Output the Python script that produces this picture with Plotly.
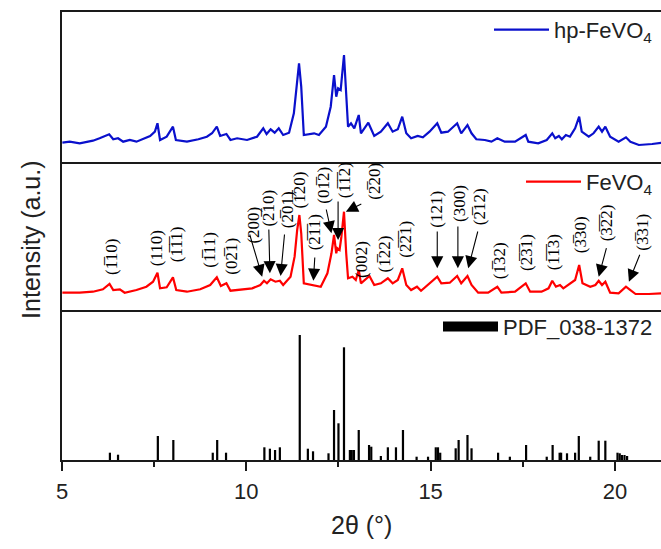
import plotly.graph_objects as go

# ---------------- data ----------------
hp_x = [5.01,5.21,5.48,5.84,6.02,6.28,6.39,6.52,6.66,6.84,7.02,7.20,7.39,7.52,7.59,7.66,7.84,8.01,8.09,8.39,8.70,8.93,9.07,9.20,9.29,9.46,9.57,9.75,10.02,10.29,10.46,10.55,10.66,10.77,10.88,11.00,11.16,11.29,11.38,11.43,11.49,11.56,11.84,11.97,12.16,12.29,12.38,12.44,12.49,12.56,12.65,12.72,12.76,12.84,12.93,13.05,13.11,13.31,13.47,13.65,13.84,13.97,14.11,14.23,14.34,14.47,14.65,14.79,14.97,15.18,15.29,15.47,15.72,15.83,16.00,16.11,16.24,16.47,16.65,16.81,17.01,17.29,17.58,17.65,17.92,18.15,18.30,18.38,18.48,18.56,18.67,18.78,18.92,19.03,19.10,19.29,19.42,19.56,19.65,19.74,19.87,20.10,20.30,20.42,20.65,21.01,21.28]
hp_y = [19.3,20.3,18.7,21.3,23.7,27.7,22.7,23.7,20.3,22,20.3,22.7,26,30.3,38.7,22,25.3,35.3,22,20.3,22.7,25.3,28.7,35.3,26,28,22,23.7,22,25.3,33.7,28,32.7,29.3,33.7,27,29.3,48.7,78.7,98.7,75.3,27,28.7,27,35.3,55.3,87,65.3,73.7,72,107,62,35.3,38.7,33.7,47,28.7,39.3,26,30.3,38.7,30.3,32.7,45.3,28.7,23.7,26,24.7,30.3,38.7,29.3,30.3,38.7,28.7,37,28.7,22.7,22,20.3,23.7,20.3,20.3,27,20.3,18.7,22,28.7,23.7,26,22.7,27,25.3,33.7,45.3,30.3,25.3,28.7,35.3,30.3,35.3,25.3,20.3,24.7,20.3,17,18,19.3]

fe_x = [5.01,5.48,5.84,6.11,6.29,6.39,6.57,6.70,7.02,7.29,7.47,7.59,7.66,7.84,8.01,8.10,8.39,8.75,9.02,9.20,9.31,9.46,9.57,9.84,10.16,10.38,10.48,10.56,10.66,10.79,10.91,11.00,11.20,11.31,11.38,11.44,11.49,11.56,11.84,12.02,12.20,12.31,12.38,12.44,12.47,12.53,12.58,12.65,12.71,12.76,12.88,12.97,13.05,13.11,13.34,13.47,13.65,13.84,13.97,14.11,14.23,14.34,14.47,14.63,14.74,14.97,15.18,15.29,15.52,15.72,15.83,16.00,16.11,16.29,16.56,16.81,16.92,17.29,17.58,17.70,18.01,18.20,18.30,18.40,18.51,18.60,18.74,18.92,19.03,19.12,19.33,19.47,19.56,19.65,19.74,19.87,20.10,20.30,20.42,20.56,20.92,21.28]
fe_y = [17.3,17.3,18.3,20.7,26,20,20.7,17.3,20,23.3,28.3,37.3,21.7,22.7,32.7,20,18.3,20.7,25,32.7,24,26.7,19.3,20.7,21.7,25,29.3,26.7,30.7,28.3,29.3,25,33.3,53.3,80,95,76.7,26.7,25,23.3,36.7,56.7,75,56.7,61.7,60,73.3,98.3,56.7,31.7,33.3,30,40,26.7,34,25,26.7,31.7,26.7,30,41.7,25,20,23.3,19.3,26.7,33.3,26.7,27.3,34,26.7,34,25,17.3,17.3,23.3,17.3,18.3,26.7,18.3,18.3,21.7,29.3,23.3,25,21.7,25,30,45,26.7,23.3,25,29.3,25,28.3,17.3,16.7,23.3,20,16,16,16.7]

pdf_x = [6.30,6.52,7.60,8.02,9.09,9.21,9.45,10.49,10.64,10.78,10.91,11.45,11.67,11.81,12.23,12.38,12.50,12.65,12.81,12.86,12.92,13.05,13.33,13.39,13.65,13.84,14.06,14.25,14.62,14.93,15.14,15.20,15.26,15.68,15.76,16.00,16.11,16.83,17.15,17.59,18.15,18.31,18.50,18.54,18.70,18.92,19.02,19.33,19.56,19.74,20.07,20.13,20.19,20.26,20.33]
pdf_y = [7.3,5.3,24,20,7.3,20,7.3,12.7,11.3,10,12.7,125,11.3,8.7,6.7,50,36.7,112.7,10,10,10,30,15,13.3,4,12.7,12.7,30,3.3,3.3,12.7,12.7,7.3,11.7,20,25,11.7,7.3,3.3,15,3.3,15,7.3,7.3,6.7,7.3,24,3.3,19.3,19.3,7.3,6.7,5,5,4]

B = "\u0305"  # combining overline (bar over the preceding digit)
# labels placed directly above peaks
free_hkl = ["(1"+B+"10)", "(110)", "(1"+B+"1"+B+"1)", "(1"+B+"11)", "(02"+B+"1)", "(1"+B+"20)",
            "(002)", "(1"+B+"22)", "(2"+B+"2"+B+"1)", "(1"+B+"32)", "(2"+B+"3"+B+"1)", "(1"+B+"1"+B+"3)", "(3"+B+"30)"]
free_x = [6.34, 7.57, 8.11, 8.98, 9.59, 11.47, 13.11, 13.76, 14.31, 16.86, 17.60, 18.33, 19.06]
free_y = [53.5, 61.5, 65.5, 60, 53.5, 120, 51, 56.5, 70.5, 49, 57.5, 58, 75]

# labels with arrows
arr_hkl = ["(200)", "(2"+B+"10)", "(2"+B+"01)", "(2"+B+"1"+B+"1)", "(01"+B+"2)", "(1"+B+"1"+B+"2)", "(2"+B+"20)",
           "(121)", "(300)", "(2"+B+"12)", "(3"+B+"2"+B+"2)", "(3"+B+"31)"]
arr_lx = [10.17, 10.59, 11.11, 11.86, 12.10, 12.67, 13.47, 15.15, 15.77, 16.33, 19.78, 20.74]
arr_ly = [85, 101.5, 100, 77.5, 125, 129.5, 128.5, 100.5, 106, 103.5, 87.5, 77.5]
arr_tx = [10.08, 10.61, 11.04, 11.86, 12.16, 12.49, 13.16, 15.18, 15.74, 16.29, 19.78, 20.69]
arr_ty = [77, 82, 77, 54, 102, 110, 106.7, 80, 85, 80, 63.3, 56.7]
arr_px = [10.43, 10.64, 10.93, 11.82, 12.31, 12.49, 12.70, 15.18, 15.74, 16.02, 19.56, 20.38]
arr_py = [33.3, 36.7, 34, 29.3, 76.7, 70, 98.3, 41.7, 41.7, 41.7, 33.3, 28.3]

# ---------------- figure ----------------
LC = "#1a1a1a"
SERIF = "Liberation Serif, DejaVu Serif, serif"
SANS = "Liberation Sans, Arial, sans-serif"

fig = go.Figure()
fig.add_trace(go.Scatter(x=hp_x, y=hp_y, xaxis="x", yaxis="y", mode="lines",
                         line=dict(color="#0a10cc", width=2.2), name="hp-FeVO<sub>4</sub>", legend="legend"))
fig.add_trace(go.Scatter(x=fe_x, y=fe_y, xaxis="x2", yaxis="y2", mode="lines",
                         line=dict(color="#ff0000", width=2.2), name="FeVO<sub>4</sub>", legend="legend2"))
fig.add_trace(go.Bar(x=pdf_x, y=pdf_y, xaxis="x3", yaxis="y3", width=0.06,
                     marker=dict(color="black", line=dict(width=0)), showlegend=False))
fig.add_trace(go.Scatter(x=[None], y=[None], xaxis="x3", yaxis="y3", mode="lines",
                         line=dict(color="black", width=14), name="PDF_038-1372", legend="legend3"))

XR = [5, 21.25]
common_x = dict(range=XR, showline=True, linecolor=LC, linewidth=2,
                showgrid=False, zeroline=False, domain=[0, 1])
common_y = dict(showline=True, mirror=False, linecolor=LC, linewidth=2, showgrid=False,
                zeroline=False, ticks="", showticklabels=False)

annotations = []
for t, x, y in zip(free_hkl, free_x, free_y):
    annotations.append(dict(text=t, x=x, y=y, xref="x2", yref="y2", showarrow=False, textangle=-90,
                            font=dict(family=SERIF, size=17, color="black")))
for t, x, y in zip(arr_hkl, arr_lx, arr_ly):
    annotations.append(dict(text=t, x=x, y=y, xref="x2", yref="y2", showarrow=False, textangle=-90,
                            font=dict(family=SERIF, size=17, color="black")))
for tx, ty, px, py in zip(arr_tx, arr_ty, arr_px, arr_py):
    annotations.append(dict(text="", x=px, y=py, ax=tx, ay=ty, xref="x2", yref="y2", axref="x2", ayref="y2",
                            showarrow=True, arrowhead=2, arrowsize=2.2, arrowwidth=1.1, arrowcolor="black", standoff=0))
annotations.append(dict(text="Intensity (a.u.)", x=-0.052, y=0.491, xref="paper", yref="paper",
                        showarrow=False, textangle=-90, xanchor="center", yanchor="middle",
                        font=dict(family=SANS, size=25, color="#222")))
annotations.append(dict(text="2θ (°)", x=0.5, y=-0.145, xref="paper", yref="paper",
                        showarrow=False, xanchor="center", yanchor="middle",
                        font=dict(family=SANS, size=25, color="#222")))

leg = dict(bgcolor="rgba(0,0,0,0)", borderwidth=0, xanchor="right", yanchor="middle", x=0.995,
           itemwidth=55, font=dict(family=SANS, size=22, color="#222"))

fig.update_layout(
    width=661, height=549,
    margin=dict(l=62, r=0, t=12, b=89),
    paper_bgcolor="white", plot_bgcolor="white",
    showlegend=True, barmode="overlay",
    xaxis=dict(common_x, anchor="y", mirror=True, ticks="", showticklabels=False),
    xaxis2=dict(common_x, anchor="y2", mirror=False, ticks="", showticklabels=False),
    xaxis3=dict(common_x, anchor="y3", mirror=False, ticks="outside", tick0=5, dtick=5, ticklen=9, tickwidth=2,
                tickcolor=LC, ticklabelstandoff=2,
                tickfont=dict(family=SANS, size=22, color="#222"),
                minor=dict(ticks="outside", dtick=2.5, ticklen=5, tickwidth=2, tickcolor=LC)),
    yaxis=dict(common_y, domain=[0.6652, 1], range=[0, 150], anchor="x"),
    yaxis2=dict(common_y, domain=[0.3348, 0.6652], range=[0, 148], anchor="x2"),
    yaxis3=dict(common_y, domain=[0, 0.3348], range=[0, 150], anchor="x3"),
    legend=dict(leg, y=0.96),
    legend2=dict(leg, y=0.621),
    legend3=dict(leg, y=0.2975),
    annotations=annotations,
)

fig.write_html("out.html", config={"displayModeBar": False},
               post_script="document.body.style.margin='0px';document.body.style.overflow='hidden';")
